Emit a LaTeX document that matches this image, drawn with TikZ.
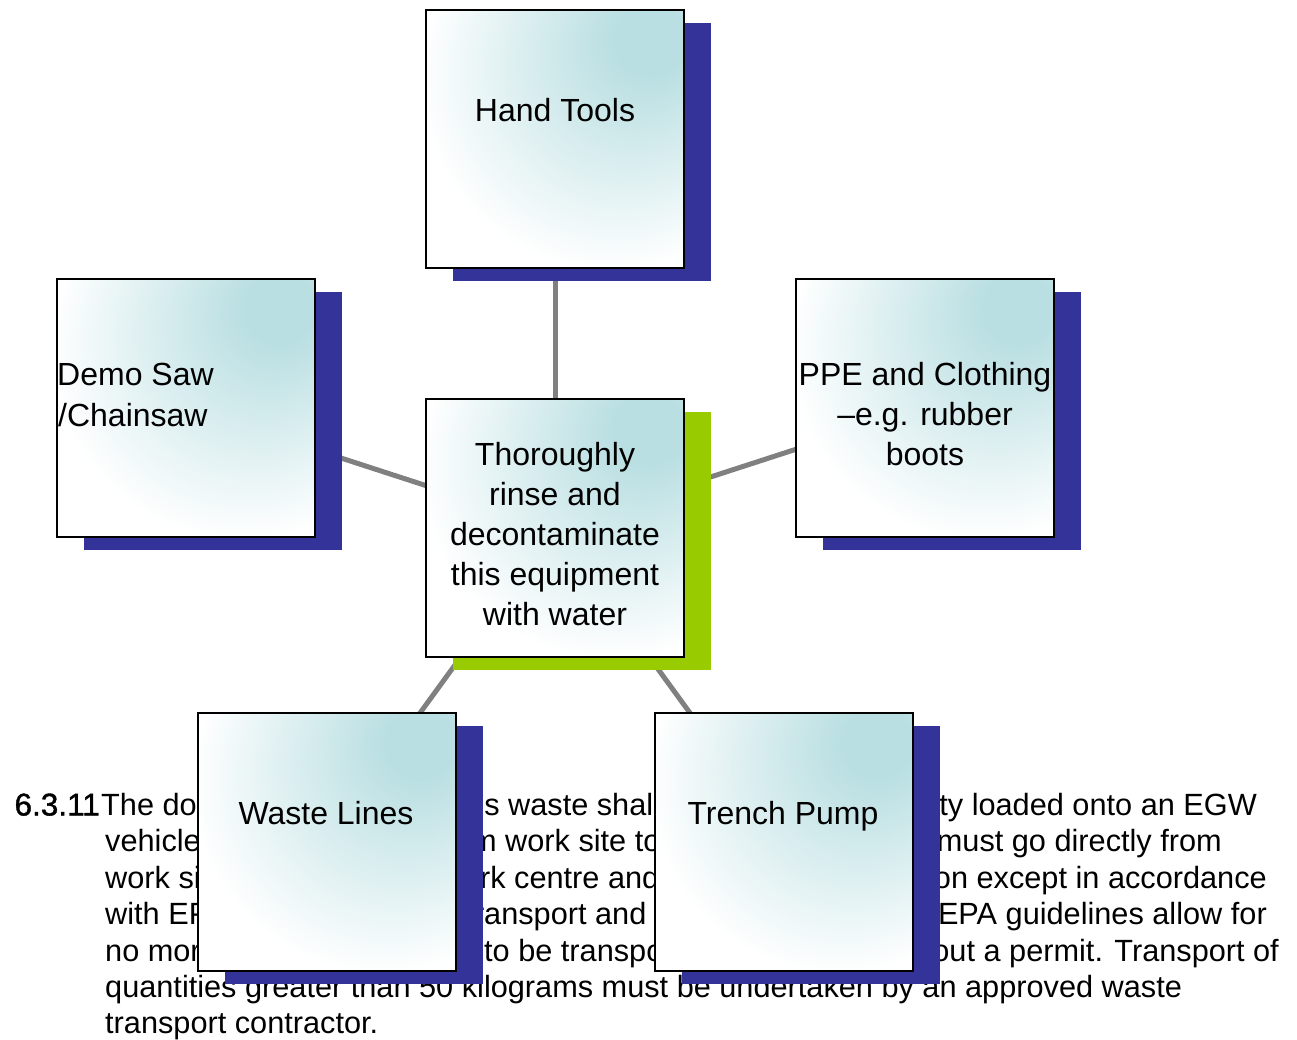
\documentclass[tikz,border=0pt]{standalone}
\usepackage{fontspec}
\setmainfont{Liberation Sans}
\newfontfamily\numfont[FakeBold=1.2]{Liberation Sans}
\usetikzlibrary{shadows}
\definecolor{tealc}{RGB}{186,223,226}
\definecolor{shblue}{RGB}{51,51,153}
\definecolor{shgreen}{RGB}{153,204,0}
\definecolor{linkgray}{RGB}{128,128,128}
\pgfdeclareradialshading{cornerteal}{\pgfpoint{20bp}{21bp}}{color(0bp)=(tealc); color(7bp)=(tealc); color(37bp)=(white); color(80bp)=(white)}
\pgfdeclarelayer{para}
\pgfdeclarelayer{links}
\pgfsetlayers{para,links,main}
\begin{document}
\begin{tikzpicture}[x=1pt,y=-1pt,
  box/.style={rectangle, draw=black, line width=2pt, minimum width=258pt, minimum height=258pt, inner sep=0pt, shading=cornerteal},
  blueshadow/.style={general shadow={fill=shblue, draw=none, shadow xshift=27pt, shadow yshift=-13pt}},
  greenshadow/.style={general shadow={fill=shgreen, draw=none, shadow xshift=27pt, shadow yshift=-13pt}},
  boxtext/.style={font=\fontsize{32}{40}\selectfont, align=center, inner sep=0pt, anchor=base},
  paratext/.style={font=\fontsize{30.7}{36.4}\selectfont, inner sep=0pt},
  link/.style={draw=linkgray, line width=5pt}]
\useasboundingbox (0,0) rectangle (1297,1039);

% boxes
\node[box, blueshadow] (hand) at (555,138.5) {};
\node[box, blueshadow] (demo) at (185.5,407.5) {};
\node[box, blueshadow] (ppe) at (924.5,407.5) {};
\node[box, greenshadow] (ctr) at (555,527.5) {};
\node[box, blueshadow] (waste) at (326.5,841.5) {};
\node[box, blueshadow] (trench) at (783.5,841.5) {};

% labels (base anchor = baseline of the last line)
\node[boxtext] (handT) at (555,121) {Hand Tools};
\node[boxtext, anchor=base west] (demoT1) at (57,385) {Demo Saw};
\node[boxtext, anchor=base west] (demoT2) at (58,426) {/Chainsaw};
\node[boxtext] (ppeT) at (925,465) {PPE and Clothing\\–e.g. rubber\\boots};
\node[boxtext] (ctrT) at (555,625) {Thoroughly\\rinse and\\decontaminate\\this equipment\\with water};
\node[boxtext] (wasteT) at (326,824) {Waste Lines};
\node[boxtext] (trenchT) at (783,824) {Trench Pump};

% connectors
\begin{pgfonlayer}{links}
\draw[link] (hand.center) -- (ctr.center);
\draw[link] (demo.center) -- (ctr.center);
\draw[link] (ppe.center) -- (ctr.center);
\draw[link] (waste.center) -- (ctr.center);
\draw[link] (trench.center) -- (ctr.center);
\end{pgfonlayer}

% paragraph behind
\begin{pgfonlayer}{para}
\node[paratext, anchor=base east, font=\fontsize{31.5}{36.4}\numfont] (pnum) at (100,815.5) {6.3.11};
\node[paratext, anchor=base west] (p1a) at (101,815.5) {The double};
\node[paratext, anchor=base west] (p1b) at (508,815.5) {\llap{asbestos }waste shall be};
\node[paratext, anchor=base east] (p1c) at (1257,815.5) {\llap{be saf}ety loaded onto an EGW};
\node[paratext, anchor=base west] (p2a) at (105,851.9) {vehicle and};
\node[paratext, anchor=base west] (p2b) at (505,851.9) {\llap{transported from }work site to the};
\node[paratext, anchor=base east] (p2c) at (1222,851.9) {\llap{work centre and }must go directly from};
\node[paratext, anchor=base west] (p3a) at (105,888.3) {work site to};
\node[paratext, anchor=base west] (p3b) at (514,888.3) {\llap{nearest work }centre and not};
\node[paratext, anchor=base east] (p3c) at (1267,888.3) {\llap{to any other locati}on except in accordance};
\node[paratext, anchor=base west] (p4a) at (105,924.7) {with EPA};
\node[paratext, anchor=base west] (p4b) at (595,924.7) {\llap{guidelines for the transport }and disposal};
\node[paratext, anchor=base east] (p4c) at (1267,924.7) {\llap{of asbestos. }EPA guidelines allow for};
\node[paratext, anchor=base west] (p5a) at (105,961.1) {no more};
\node[paratext, anchor=base west] (p5b) at (484,961.1) {\llap{50 kilograms }to be transported};
\node[paratext, anchor=base east] (p5c) at (1279,961.1) {\llap{at a time with}out a permit. Transport of};
\node[paratext, anchor=base west] (p6) at (105,997.5) {quantities greater than 50 kilograms must be undertaken by an approved waste};
\node[paratext, anchor=base west] (p7) at (105,1033.9) {transport contractor.};
\end{pgfonlayer}
\end{tikzpicture}
\end{document}
